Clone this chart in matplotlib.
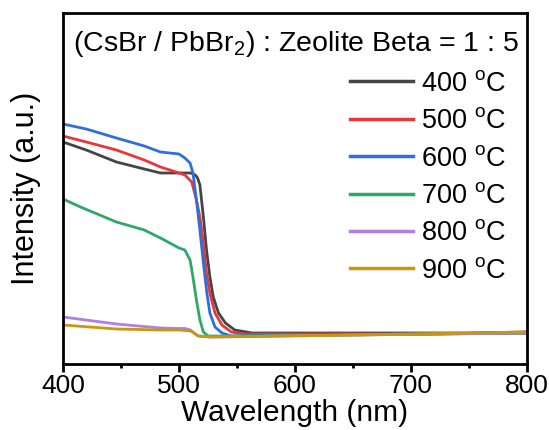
import numpy as np
import matplotlib
matplotlib.use("Agg")
import matplotlib.pyplot as plt

plt.rcParams['font.family'] = ['Liberation Sans', 'DejaVu Sans']
plt.rcParams['mathtext.fontset'] = 'custom'
plt.rcParams['mathtext.rm'] = 'Liberation Sans'
plt.rcParams['mathtext.it'] = 'Liberation Sans:italic'

labels = ["400 $^{\\rm o}$C", "500 $^{\\rm o}$C", "600 $^{\\rm o}$C",
          "700 $^{\\rm o}$C", "800 $^{\\rm o}$C", "900 $^{\\rm o}$C"]
colors = ["#454545", "#e8373a", "#2f6fdc", "#2ea86a", "#b07fe0", "#c8980a"]

wl_400 = [400, 420, 446, 470, 484, 500, 510, 514, 516, 518, 521, 523.7, 526.6, 529.5, 534, 540, 548, 563, 587, 650, 700, 750, 800]
in_400 = [222, 214, 202, 195, 191, 191, 191, 189, 186, 179, 147, 114, 87, 67, 51, 41, 34, 31, 31, 31, 31, 31, 32]

wl_500 = [400, 420, 446, 470, 484, 500, 505, 511, 515, 518, 521, 523.7, 526.6, 531, 537, 545, 557, 600, 700, 800]
in_500 = [228, 222, 214, 204, 197, 191, 189, 182, 164, 147, 121, 91, 71, 51, 39, 32, 30, 30, 30, 31]

wl_600 = [400, 420, 446, 470, 484, 500, 505, 509.5, 512, 515, 518, 521, 524, 526.6, 531, 537, 545, 600, 700, 800]
in_600 = [240, 235, 226, 218, 212, 210, 206, 201, 191, 164, 134, 101, 71, 51, 37, 31, 28, 29, 30, 31]

wl_700 = [400, 415, 446, 470, 484, 500, 505, 509.5, 512, 515, 518, 521, 525, 535, 560, 650, 800]
in_700 = [165, 157, 142, 134, 126, 116, 114, 104, 87, 64, 44, 32, 28, 28, 28, 29, 31]

wl_800 = [400, 446, 484, 500, 505, 510, 513, 516.5, 527, 560, 650, 800]
in_800 = [47, 40, 36, 35.5, 35.5, 34, 31, 28, 27, 27.5, 29, 31]

wl_900 = [400, 446, 484, 500, 505, 510, 513, 516.5, 527, 560, 650, 800]
in_900 = [39, 35, 34, 34, 33.5, 33, 31, 28, 27, 27.5, 29, 32]

series = [(wl_400, in_400), (wl_500, in_500), (wl_600, in_600),
          (wl_700, in_700), (wl_800, in_800), (wl_900, in_900)]

fig = plt.figure(figsize=(5.49, 4.30), dpi=100)
ax = fig.add_axes([0.1148, 0.1535, 0.8452, 0.8163])

for (x, y), lab, c in zip(series, labels, colors):
    ax.plot(x, y, color=c, lw=2.0, label=lab, solid_joinstyle='round')

ax.set_xlim(400, 800)
ax.set_ylim(0, 351)
ax.set_xticks([400, 500, 600, 700, 800])
ax.set_xticks([450, 550, 650, 750], minor=True)
ax.set_yticks([])
ax.tick_params(axis='x', which='major', direction='out', length=6, width=2, labelsize=19, pad=1)
ax.tick_params(axis='x', which='minor', direction='out', length=3, width=2)
for s in ax.spines.values():
    s.set_linewidth(2)

ax.set_xlabel("Wavelength (nm)", fontsize=21.5, labelpad=1)
ax.set_ylabel("Intensity (a.u.)", fontsize=22, labelpad=16)

ax.text(0.022, 0.912, "(CsBr / PbBr$_2$) : Zeolite Beta = 1 : 5", transform=ax.transAxes,
        fontsize=20.5, va='center', ha='left')

leg = ax.legend(loc='upper left', bbox_to_anchor=(0.619, 0.835), frameon=False, fontsize=19.5,
                handlelength=2.3, handletextpad=0.3, labelspacing=0.42, borderaxespad=0,
                borderpad=0)
for l in leg.get_lines():
    l.set_linewidth(2.5)

fig.savefig("out.png", dpi=100)
